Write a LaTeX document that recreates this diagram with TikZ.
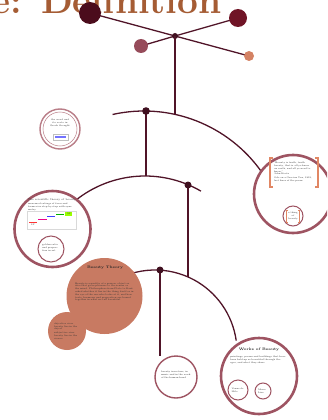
\documentclass[tikz,border=0pt]{standalone}
\usetikzlibrary{arrows.meta}

\definecolor{titlebrown}{RGB}{165,92,52}
\definecolor{pathred}{RGB}{80,20,40}
\definecolor{ringmauve}{RGB}{158,84,98}
\definecolor{ringlight}{RGB}{185,125,135}
\definecolor{salmon}{RGB}{200,122,98}
\definecolor{bracketorange}{RGB}{225,135,100}
\definecolor{balldark}{RGB}{75,12,28}
\definecolor{ballred}{RGB}{112,20,38}
\definecolor{ballmauve}{RGB}{150,75,90}
\definecolor{ballpeach}{RGB}{212,130,100}

\begin{document}
\begin{tikzpicture}[x=1pt, y=-1pt, >=Stealth,
    pathline/.style={draw=pathred, line width=1.3pt},
    pathdot/.style={fill=pathred!80!black},
    bigring/.style={draw=ringmauve, line width=2.6pt, fill=white},
    smallring/.style={draw=ringmauve, line width=1pt, fill=white},
    blob/.style={fill=salmon},
    bracket/.style={draw=bracketorange, line width=1.1pt},
    tinytext/.style={font=\fontsize{2.3}{2.8}\selectfont, text=black!80, align=left},
    headtext/.style={font=\fontsize{3.6}{4}\selectfont\bfseries, text=black!85}]

\useasboundingbox (0,0) rectangle (327,420);
\clip (0,0) rectangle (327,420);

% title, cut off at the top edge as in the slide
\node[anchor=base east, text=titlebrown, font=\fontsize{37}{40}\selectfont\bfseries] (title) at (225,14) {e: Definition};

% the crossing at the top with its four balls
\coordinate (hub) at (175,36);
\coordinate (balla) at (90,13);
\coordinate (ballb) at (249,56);
\coordinate (ballc) at (141,46);
\coordinate (balld) at (238,18);
\draw[pathline] (balla) -- (hub) -- (ballb);
\draw[pathline] (ballc) -- (hub) -- (balld);
\fill[balldark] (balla) circle (11);
\fill[ballred] (balld) circle (9);
\fill[ballmauve] (ballc) circle (7);
\fill[ballpeach] (ballb) circle (5);
\fill[pathdot] (hub) circle (3);

% first arc, hanging from the hub
\coordinate (knota) at (146,111);
\draw[pathline] (hub) -- (175,115);
\draw[pathline] (144,255) ++(-102.6:144) arc[start angle=-102.6, end angle=-35, radius=144];

% second arc
\coordinate (knotb) at (188,185);
\draw[pathline] (knota) -- (146,176);
\draw[pathline] (145,287) ++(-129:111) arc[start angle=-129, end angle=-59.7, radius=111];

% third arc
\coordinate (knotc) at (160,270);
\draw[pathline] (knotb) -- (188,277);
\draw[pathline] (155,352) ++(-122:82) arc[start angle=-122, end angle=-8, radius=82];
\draw[pathline] (knotc) -- (160,356);

\fill[pathdot] (knota) circle (3.8);
\fill[pathdot] (knotb) circle (3.5);
\fill[pathdot] (knotc) circle (3.5);

% small double ring at top left
\draw[draw=ringlight, line width=1.4pt, fill=white] (60,129) circle (20);
\draw[draw=ringlight, line width=0.5pt] (60,129) circle (17);
\node[tinytext, align=center] (introtxt) at (60,123) {the word and\\ its roots in\\ Greek thought};
\fill[blue!55] (55,136) rectangle (66,138);
\draw[gray!50, line width=0.3pt] (53,134) rectangle (68,140);

% left circle with the step chart
\draw[bigring] (52.5,229) circle (38);
\node[tinytext, font=\fontsize{2.6}{3}\selectfont] (charthead) at (52,200) {The scientific theory of beauty};
\node[tinytext, text width=48pt] (charttxt) at (52,207) {measured ratings of faces and forms rise step by step with symmetry};
\draw[gray!30, line width=0.3pt] (27,211) rectangle (76,229);
\draw[red!80, line width=0.9pt] (29,222) -- (37,222);
\draw[magenta, line width=0.9pt] (38,219) -- (47,219);
\draw[blue!75, line width=0.9pt] (47,216.5) -- (55,216.5);
\draw[green!70!black, line width=0.9pt] (56,214) -- (64,214);
\fill[lime!80!green] (65,211.5) rectangle (72,216);
\node[tinytext] (stepa) at (33,225) {1P};
\node[tinytext] (stepb) at (69,214) {5P};
\draw[smallring] (51,249) circle (13);
\node[tinytext, text width=18pt] (charttxtb) at (51,248) {golden ratio and proportion in art};

% large salmon circle
\fill[blob] (104.5,296) circle (38);
\node[headtext] (beautyhead) at (105,268) {Beauty Theory};
\node[tinytext, text=black!80, text width=60pt] (beautytxt) at (105,292) {Beauty is a quality of a person, object or idea that gives pleasure to the senses or the mind. Philosophers from Plato to Kant asked whether it lies in the thing itself or in the eye of the one who looks at it, and how taste, harmony and proportion are bound together in what we call beautiful.};

% small salmon circle
\fill[blob] (67,331) circle (19);
\node[tinytext, text=black!80, text width=26pt] (beautytxtb) at (67,331) {objective view\\ beauty lies in the object\\[1pt] subjective view\\ beauty lies in the viewer};

% right circle with brackets
\draw[bigring] (293,194) circle (39);
\draw[bracket] (273,158) -- (270,158) -- (270,187) -- (273,187);
\draw[bracket] (315,158) -- (318,158) -- (318,187) -- (315,187);
\node[tinytext, text width=40pt] (quotetxt) at (294,172) {``Beauty is truth, truth beauty, that is all ye know on earth, and all ye need to know.''\\ John Keats\\[1pt] Ode on a Grecian Urn, 1819, last lines of the poem};
\draw[smallring] (293,216) circle (10);
\draw[bracket, line width=0.6pt] (288,210) -- (286.5,210) -- (286.5,222) -- (288,222);
\draw[bracket, line width=0.6pt] (298,210) -- (299.5,210) -- (299.5,222) -- (298,222);
\node[tinytext, text width=10pt, align=center] (quotetxtb) at (293,216) {a thing of beauty};

% small circle at the bottom
\draw[draw=ringmauve, line width=1.4pt, fill=white] (176,377) circle (21);
\node[tinytext, text width=30pt] (bottomtxt) at (176,375) {beauty in nature, in music and in the work of the human hand};

% bottom right circle
\draw[bigring] (259,376) circle (38);
\node[headtext] (workshead) at (259,350) {Works of Beauty};
\node[tinytext, text width=58pt] (workstxt) at (259,360) {paintings, poems and buildings that have been held up as beautiful through the ages, and what they share};
\draw[smallring] (238,390) circle (10);
\node[tinytext, text width=13pt] (workstxta) at (238,390) {Venus de Milo};
\draw[smallring] (263,391) circle (8);
\node[tinytext, text width=10pt] (workstxtb) at (263,391) {Mona Lisa};

\end{tikzpicture}
\end{document}
